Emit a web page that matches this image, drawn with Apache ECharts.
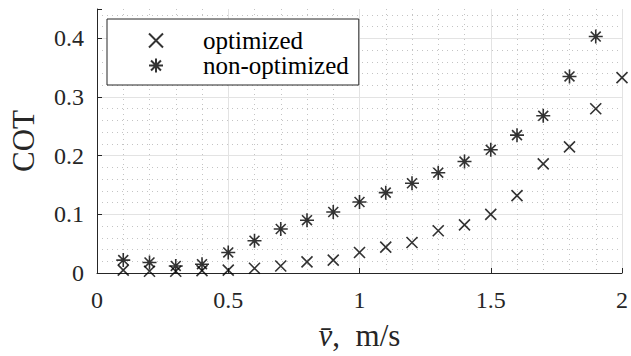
<!DOCTYPE html>
<html>
<head>
<meta charset="utf-8">
<script src="https://cdn.jsdelivr.net/npm/echarts@6/dist/echarts.min.js"></script>
<style>
  html, body { margin: 0; padding: 0; background: #fff; }
  #container { width: 631px; height: 356px; }
</style>
</head>
<body>
<div id="container"></div>
<script>
// speeds (m/s)
const speeds = [0.1, 0.2, 0.3, 0.4, 0.5, 0.6, 0.7, 0.8, 0.9, 1.0,
                1.1, 1.2, 1.3, 1.4, 1.5, 1.6, 1.7, 1.8, 1.9, 2.0];
// cost of transport
const optimized = [0.005, 0.003, 0.003, 0.004, 0.005, 0.008, 0.012, 0.019, 0.022, 0.035,
                   0.044, 0.052, 0.072, 0.082, 0.100, 0.132, 0.186, 0.215, 0.280, 0.333];
const nonOptimized = [0.022, 0.018, 0.012, 0.015, 0.035, 0.055, 0.075, 0.090, 0.104, 0.121,
                      0.137, 0.153, 0.171, 0.190, 0.210, 0.235, 0.268, 0.335, 0.403];

const serifFont = 'Liberation Serif';
const ink = '#262626';

const crossPath = 'path://M0,0L10,10M10,0L0,10';
const starPath = 'path://M0,5L10,5M5,0L5,10M1.46,1.46L8.54,8.54M8.54,1.46L1.46,8.54';

function pairs(ys) {
    return ys.map((y, i) => [speeds[i], y]);
}

const option = {
    backgroundColor: '#fff',
    animation: false,
    textStyle: { fontFamily: serifFont },
    grid: { left: 96, right: 8, top: 9, bottom: 78 },
    legend: {
        orient: 'vertical',
        left: 107,
        top: 19,
        backgroundColor: '#fff',
        borderColor: ink,
        borderWidth: 1,
        borderRadius: 0,
        padding: [9, 10, 7, 41],
        itemWidth: 14,
        itemHeight: 14,
        itemGap: 0,
        textStyle: { fontFamily: serifFont, fontSize: 25, color: '#000', padding: [0, 0, 0, 35] },
        data: ['optimized', 'non-optimized']
    },
    xAxis: {
        type: 'value',
        min: 0, max: 2, interval: 0.5,
        name: '{i|v\u0304},  m/s',
        nameLocation: 'middle',
        nameGap: 47,
        nameTextStyle: {
            fontFamily: serifFont, fontSize: 31, color: ink,
            rich: { i: { fontFamily: serifFont, fontSize: 31, fontStyle: 'italic', color: ink } }
        },
        axisLine: { show: true, lineStyle: { color: ink, width: 1 } },
        axisTick: { show: true, inside: true, length: 5, lineStyle: { color: ink } },
        axisLabel: { fontFamily: serifFont, fontSize: 24, color: ink, margin: 15 },
        splitLine: { show: true, lineStyle: { color: '#e3e3e3', width: 1 } },
        minorTick: { show: true, splitNumber: 5, length: 0 },
        minorSplitLine: { show: true, lineStyle: { color: '#c4c4c4', width: 1, type: [1, 4] } }
    },
    yAxis: {
        type: 'value',
        min: 0, max: 0.45, interval: 0.1,
        name: 'COT',
        nameLocation: 'middle',
        nameGap: 58,
        nameTextStyle: { fontFamily: serifFont, fontSize: 31, color: ink },
        axisLine: { show: true, lineStyle: { color: ink, width: 1 } },
        axisTick: { show: true, inside: true, length: 5, lineStyle: { color: ink } },
        axisLabel: { fontFamily: serifFont, fontSize: 24, color: ink, margin: 13, showMaxLabel: false,
            formatter: v => (v > 0.41 ? '' : String(+v.toFixed(2))) },
        splitLine: { show: true, showMaxLine: false, lineStyle: { color: '#e3e3e3', width: 1 } },
        minorTick: { show: true, splitNumber: 5, length: 0 },
        minorSplitLine: { show: true, lineStyle: { color: '#c4c4c4', width: 1, type: [1, 4] } }
    },
    series: [
        {
            name: 'optimized',
            type: 'scatter',
            symbol: crossPath,
            symbolSize: 11,
            itemStyle: { color: 'rgba(0,0,0,0)', borderColor: '#000', borderWidth: 1.6 },
            data: pairs(optimized)
        },
        {
            name: 'non-optimized',
            type: 'scatter',
            symbol: starPath,
            symbolSize: 14,
            itemStyle: { color: 'rgba(0,0,0,0)', borderColor: '#000', borderWidth: 1.6 },
            data: pairs(nonOptimized)
        }
    ]
};

// svg renderer: the browser styles the text itself, so the serif face is picked up
const chart = echarts.init(document.getElementById('container'), null, { renderer: 'svg' });
chart.setOption(option);
</script>
</body>
</html>
